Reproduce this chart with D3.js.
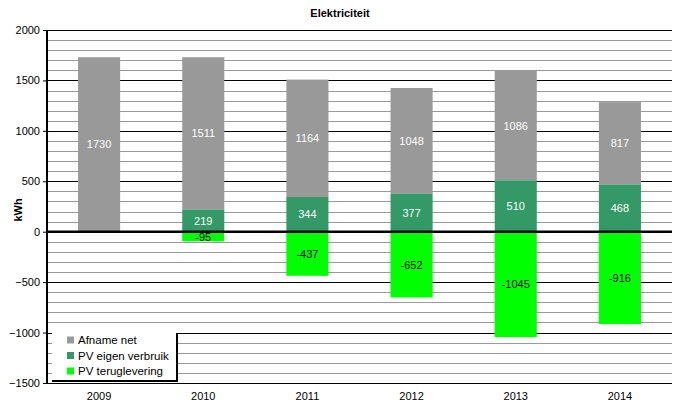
<!DOCTYPE html>
<html><head><meta charset="utf-8">
<script src="https://cdn.jsdelivr.net/npm/d3@7"></script>
<style>body{margin:0;background:#fff}svg{display:block}text{font-family:"Liberation Sans",Arial,sans-serif}</style>
</head><body>
<svg id="c" width="680" height="408"></svg>
<script>
const years = ["2009","2010","2011","2012","2013","2014"];
const afnameNet = [1730,1511,1164,1048,1086,817];
const pvEigen = [0,219,344,377,510,468];
const pvTerug = [0,-95,-437,-652,-1045,-916];
const seriesNames = ["Afname net","PV eigen verbruik","PV teruglevering"];
const colors = ["#999999","#339966","#00ff00"];
const labelColors = ["#ffffff","#ffffff","#000000"];
const yTicks = [2000,1500,1000,500,0,-500,-1000,-1500];

const svg = d3.select("#c");
const m = {l:47, r:672, t:30, b:383};
const x = d3.scaleBand().domain(years).range([m.l, m.r]).paddingInner(0.596).paddingOuter(0.298);
const y = d3.scaleLinear().domain([-1500,2000]).range([m.b, m.t]);

// gridlines
const minor = d3.range(-1500, 2001, 100);
svg.append("g").selectAll("line").data(minor).join("line")
  .attr("x1", m.l).attr("x2", m.r)
  .attr("y1", d=>Math.round(y(d))+0.5).attr("y2", d=>Math.round(y(d))+0.5)
  .attr("stroke", d=> d%500===0 ? "#000" : "#999").attr("stroke-width", 1);

// bars
const rows = years.map((yr,i)=>({yr, segs:[
  {s:0, y0:pvEigen[i], y1:pvEigen[i]+afnameNet[i], v:afnameNet[i]},
  {s:1, y0:0, y1:pvEigen[i], v:pvEigen[i]},
  {s:2, y0:pvTerug[i], y1:0, v:pvTerug[i]}
]}));
const g = svg.append("g");
rows.forEach(r=>{
  r.segs.forEach(sg=>{
    if (sg.v===0) return;
    g.append("rect").attr("x", x(r.yr)).attr("width", x.bandwidth())
      .attr("y", y(sg.y1)).attr("height", y(sg.y0)-y(sg.y1)).attr("fill", colors[sg.s]);
  });
});
// zero line
svg.append("line").attr("x1", m.l).attr("x2", m.r).attr("y1", y(0)).attr("y2", y(0))
  .attr("stroke","#000").attr("stroke-width",2.5);

// labels
rows.forEach(r=>{
  r.segs.forEach(sg=>{
    if (sg.v===0) return;
    g.append("text").attr("x", x(r.yr)+x.bandwidth()/2).attr("y", (y(sg.y0)+y(sg.y1))/2+4)
      .attr("text-anchor","middle").attr("font-size",11).attr("fill",labelColors[sg.s]).text(sg.v);
  });
});

// y axis
const ya = svg.append("g").attr("transform",`translate(${m.l},0)`)
  .call(d3.axisLeft(y).tickValues(yTicks).tickSize(4).tickPadding(3).tickFormat(d3.format("d")));
ya.select(".domain").attr("stroke","#000").attr("stroke-width",2).attr("d",`M0,${m.t}V${m.b}`);
ya.selectAll(".tick line").attr("stroke","#000");
ya.selectAll("text").attr("font-size",11).attr("fill","#000").attr("font-family","Liberation Sans, Arial, sans-serif");

// x axis labels
const xa = svg.append("g").attr("transform",`translate(0,${m.b})`)
  .call(d3.axisBottom(x).tickSize(0).tickPadding(9));
xa.select(".domain").remove();
xa.selectAll("text").attr("font-size",11).attr("fill","#000").attr("font-family","Liberation Sans, Arial, sans-serif");

// title
svg.append("text").attr("x",340).attr("y",17).attr("text-anchor","middle")
  .attr("font-size",11).attr("font-weight","bold").text("Elektriciteit");
// y label
svg.append("text").attr("transform","translate(22,210) rotate(-90)").attr("text-anchor","middle")
  .attr("font-size",11).attr("font-weight","bold").text("kWh");

// legend
const lg = svg.append("g");
lg.append("rect").attr("x",52).attr("y",333).attr("width",124).attr("height",47).attr("fill","#fff");
lg.append("path").attr("d","M52,381H177V333").attr("fill","none").attr("stroke","#000").attr("stroke-width",2);
seriesNames.forEach((n,i)=>{
  const yy = 340 + i*15.5;
  lg.append("rect").attr("x",67).attr("y",yy-3.5).attr("width",7).attr("height",7).attr("fill",colors[i]);
  lg.append("text").attr("x",78).attr("y",yy+4).attr("font-size",11.5).text(n);
});
</script>
</body></html>
